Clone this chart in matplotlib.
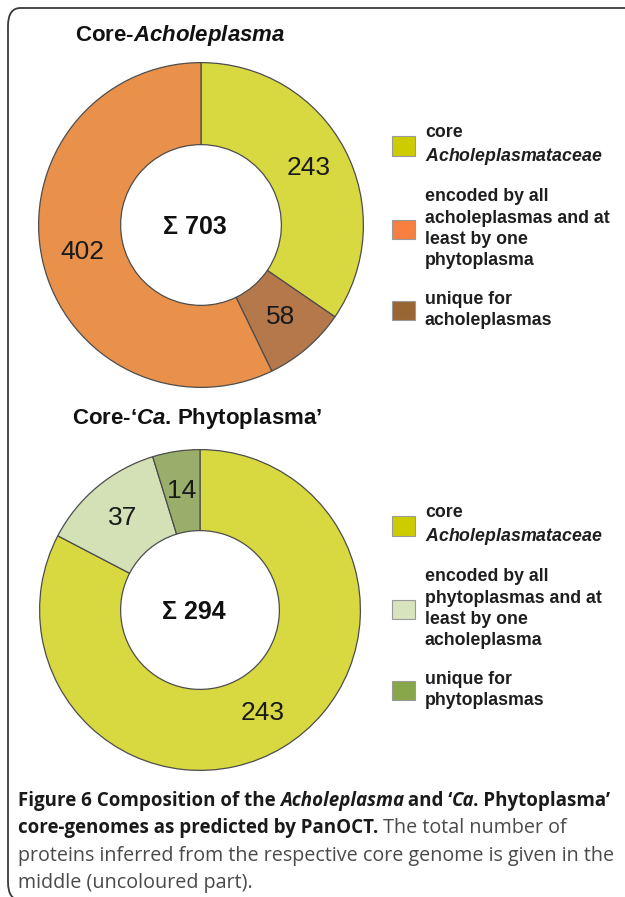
import matplotlib
matplotlib.use('Agg')
import matplotlib.pyplot as plt
from matplotlib.patches import Patch, FancyBboxPatch

plt.rcParams['font.family'] = ['Liberation Sans', 'DejaVu Sans']
plt.rcParams['mathtext.fontset'] = 'custom'
plt.rcParams['mathtext.rm'] = 'Liberation Sans:bold'
plt.rcParams['mathtext.it'] = 'Liberation Sans:italic:bold'

W, H = 625, 897

# data (legend order)
acho_cats = ['core\n$\\mathit{Acholeplasmataceae}$',
             'encoded by all\nacholeplasmas and at\nleast by one\nphytoplasma',
             'unique for\nacholeplasmas']
acho_values = [243, 402, 58]
acho_pie_order = [0, 2, 1]   # clockwise from 12 o'clock
acho_pie_colors = ['#d8d840', '#e9914a', '#b5784a']
acho_legend_colors = ['#cccc00', '#f77f3f', '#996633']

phyto_cats = ['core\n$\\mathit{Acholeplasmataceae}$',
              'encoded by all\nphytoplasmas and at\nleast by one\nacholeplasma',
              'unique for\nphytoplasmas']
phyto_values = [243, 37, 14]
phyto_pie_order = [0, 1, 2]
phyto_pie_colors = ['#d8d840', '#d4e1b6', '#9aae6b']
phyto_legend_colors = ['#cccc00', '#d7e4bd', '#88a64a']

fig = plt.figure(figsize=(W / 100, H / 100), dpi=100)

# rounded frame, open to the right/bottom edge
frame = FancyBboxPatch((8 / W, 1 - 900 / H), 700 / W, 892 / H,
                       boxstyle='round,pad=0,rounding_size=0.02',
                       transform=fig.transFigure, fill=False,
                       edgecolor='#3a3a3a', linewidth=1.3)
fig.patches.append(frame)


def donut(cx, cy, r, values, order, colors):
    ax = fig.add_axes([(cx - r) / W, 1 - (cy + r) / H, 2 * r / W, 2 * r / H])
    vals = [values[i] for i in order]
    cols = [colors[i] for i in order]
    total = sum(values)
    ax.pie(vals, colors=cols, startangle=90, counterclock=False, radius=1,
           autopct=lambda p: '%d' % round(p * total / 100), pctdistance=0.75,
           wedgeprops=dict(width=0.505, edgecolor='#4d4d4d', linewidth=0.9),
           textprops=dict(fontsize=19, color='#1a1a1a'))
    ax.text(-0.04, -0.01, '\u03a3 %d' % total, ha='center', va='center',
            fontsize=18, fontweight='bold', color='#111111')
    ax.set_xlim(-1.01, 1.01)
    ax.set_ylim(-1.01, 1.01)
    ax.axis('off')
    return ax


def legend(x, y, cats, colors):
    handles = [Patch(facecolor=c, edgecolor='#9a9a9a', linewidth=0.8) for c in colors]
    leg = fig.legend(handles, cats, loc='upper left',
                     bbox_to_anchor=(x / W, 1 - y / H), frameon=False,
                     fontsize=12.8, handlelength=1.3, handleheight=1.3,
                     handletextpad=0.55, labelspacing=1.22,
                     borderpad=0, borderaxespad=0)
    for t in leg.get_texts():
        t.set_fontweight('bold')
        t.set_color('#1e1e1e')
        t.set_linespacing(1.32)
    return leg


donut(201, 225, 164, acho_values, acho_pie_order, acho_pie_colors)
donut(200, 610, 162, phyto_values, phyto_pie_order, phyto_pie_colors)

fig.text(75 / W, 1 - 35 / H, 'Core-$\\mathit{Acholeplasma}$', fontsize=16,
         fontweight='bold', va='center', color='#111111')
fig.text(72 / W, 1 - 418 / H, 'Core-\u2018$\\mathit{Ca}$. Phytoplasma\u2019', fontsize=16,
         fontweight='bold', va='center', color='#111111')

legend(392, 124, acho_cats, acho_legend_colors)
legend(392, 504, phyto_cats, phyto_legend_colors)

# caption with mixed styles
cap_font = ['Open Sans', 'DejaVu Sans']
cap_sizes = {'bold': 13.5, 'normal': 14.2}
renderer = fig.canvas.get_renderer()


def run_width(txt, weight, style):
    size = cap_sizes[weight]
    a = fig.text(0, 0, txt + '|', fontsize=size, fontweight=weight,
                 fontstyle=style, family=cap_font)
    b = fig.text(0, 0, '|', fontsize=size, fontweight=weight,
                 fontstyle=style, family=cap_font)
    w = a.get_window_extent(renderer).width - b.get_window_extent(renderer).width
    a.remove()
    b.remove()
    if style == 'italic':
        w -= 2
    return w


def caption_line(x, y, runs):
    for txt, weight, style in runs:
        col = '#1a1a1a' if weight == 'bold' else '#4a4a4a'
        fig.text(x / W, 1 - y / H, txt, fontsize=cap_sizes[weight], fontweight=weight,
                 fontstyle=style, family=cap_font, color=col, va='baseline')
        x += run_width(txt, weight, style)


caption_lines = [
    [('Figure 6 Composition of the ', 'bold', 'normal'),
     ('Acholeplasma', 'bold', 'italic'),
     (' and \u2018', 'bold', 'normal'),
     ('Ca', 'bold', 'italic'),
     ('. Phytoplasma\u2019', 'bold', 'normal')],
    [('core-genomes as predicted by PanOCT.', 'bold', 'normal'),
     (' The total number of', 'normal', 'normal')],
    [('proteins inferred from the respective core genome is given in the', 'normal', 'normal')],
    [('middle (uncoloured part).', 'normal', 'normal')],
]
for i, runs in enumerate(caption_lines):
    caption_line(18, 806 + i * 27.3, runs)

fig.savefig('out.png', dpi=100)
